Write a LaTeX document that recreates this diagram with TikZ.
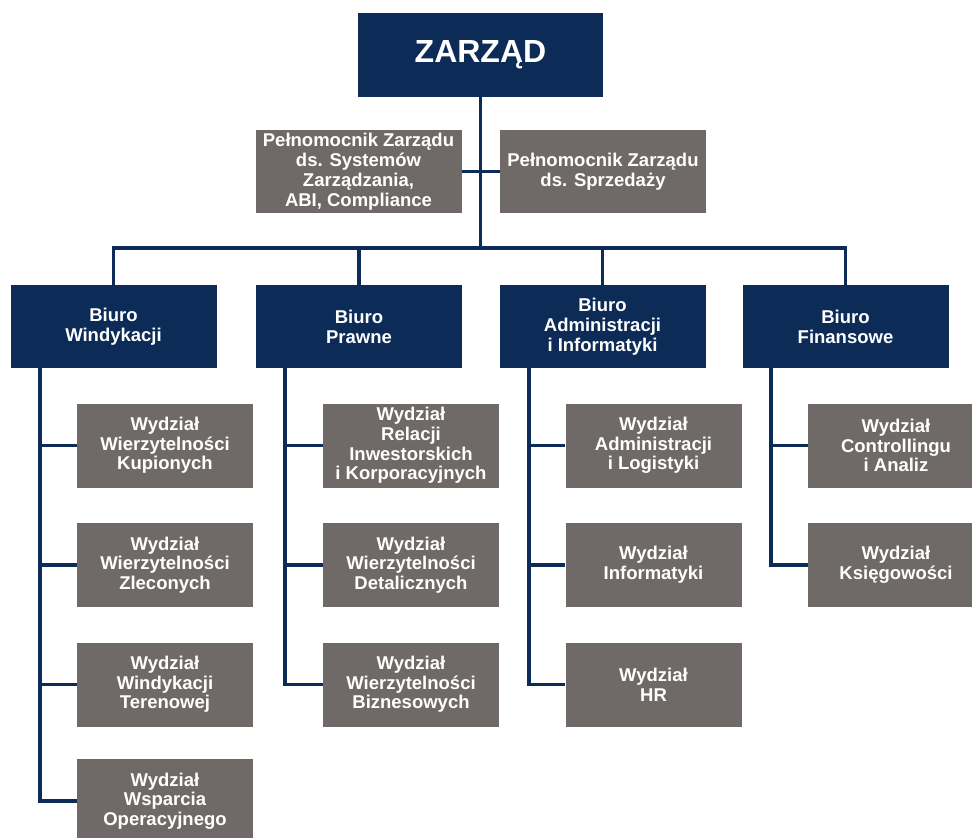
\documentclass[tikz,border=0pt]{standalone}
\usepackage{fontspec}
\setmainfont{Liberation Sans}
\usepackage{tikz}
\usetikzlibrary{positioning}
\definecolor{navyBox}{RGB}{12,43,86}
\definecolor{grayBox}{RGB}{111,106,104}
\tikzstyle{boardNode}=[rectangle,fill=navyBox,text=white,inner sep=0pt,minimum width=245pt,minimum height=84pt,font=\bfseries\fontsize{32}{35}\selectfont]
\tikzstyle{officeNode}=[rectangle,fill=navyBox,text=white,inner sep=0pt,align=center,minimum width=206pt,minimum height=83pt,font=\bfseries\fontsize{18.5}{20}\selectfont]
\tikzstyle{proxyNode}=[rectangle,fill=grayBox,text=white,inner sep=0pt,align=center,minimum width=206pt,minimum height=83pt,font=\bfseries\fontsize{18.5}{20}\selectfont]
\tikzstyle{unitNode}=[rectangle,fill=grayBox,text=white,inner sep=0pt,align=center,minimum width=176pt,minimum height=84pt,font=\bfseries\fontsize{18.5}{19.7}\selectfont]
\tikzstyle{orgLine}=[draw=navyBox,line width=3.2pt]

\begin{document}
\begin{tikzpicture}[x=1pt,y=-1pt]

    \clip (0,0) rectangle (972,838);
    \fill[white] (0,0) rectangle (972,838);

    \node[boardNode] (zarzad) at (480.5,55) {ZARZĄD};
    \node[proxyNode] (pelSys) at (358.5,171.5) {Pełnomocnik Zarządu\\ds. Systemów\\Zarządzania,\\ABI, Compliance};
    \node[proxyNode] (pelSpr) at (603,171.5) {Pełnomocnik Zarządu\\ds. Sprzedaży};

    \node[officeNode] (bWin) at (113.5,326.5) {Biuro\\Windykacji};
    \node[officeNode] (bPra) at (359,326.5) {Biuro\\Prawne};
    \node[officeNode] (bAdm) at (602.5,326.5) {Biuro\\Administracji\\i Informatyki};
    \node[officeNode] (bFin) at (845.5,326.5) {Biuro\\Finansowe};

    \node[unitNode] (wKup) at (165,445.5) {Wydział\\Wierzytelności\\Kupionych};
    \node[unitNode] (wZle) at (165,565) {Wydział\\Wierzytelności\\Zleconych};
    \node[unitNode] (wTer) at (165,684.5) {Wydział\\Windykacji\\Terenowej};
    \node[unitNode] (wOpe) at (165,801) {Wydział\\Wsparcia\\Operacyjnego};

    \node[unitNode] (wRel) at (411,445.5) {Wydział\\Relacji\\Inwestorskich\\i Korporacyjnych};
    \node[unitNode] (wDet) at (411,565) {Wydział\\Wierzytelności\\Detalicznych};
    \node[unitNode] (wBiz) at (411,684.5) {Wydział\\Wierzytelności\\Biznesowych};

    \node[unitNode] (wLog) at (653.5,445.5) {Wydział\\Administracji\\i Logistyki};
    \node[unitNode] (wInf) at (653.5,565) {Wydział\\Informatyki};
    \node[unitNode] (wHR) at (653.5,684.5) {Wydział\\HR};

    \node[unitNode] (wCon) at (896,445.5) {Wydział\\Controllingu\\i Analiz};
    \node[unitNode] (wKsi) at (896,565) {Wydział\\Księgowości};

    \coordinate (bus) at (480.5,248);
    \coordinate (railWin) at (40,368);
    \coordinate (railPra) at (285,368);
    \coordinate (railAdm) at (529,368);
    \coordinate (railFin) at (771,368);

    \draw[orgLine] (zarzad.south) -- (bus);
    \draw[orgLine] (pelSys.east) -- (pelSpr.west);
    \draw[orgLine] (bWin.north) |- (bus) -| (bFin.north);
    \draw[orgLine] (bPra.north) -- (bPra.north |- bus);
    \draw[orgLine] (bAdm.north) -- (bAdm.north |- bus);

    \draw[orgLine] (railWin) |- (wOpe.west);
    \draw[orgLine] (railWin |- wKup) -- (wKup.west);
    \draw[orgLine] (railWin |- wZle) -- (wZle.west);
    \draw[orgLine] (railWin |- wTer) -- (wTer.west);

    \draw[orgLine] (railPra) |- (wBiz.west);
    \draw[orgLine] (railPra |- wRel) -- (wRel.west);
    \draw[orgLine] (railPra |- wDet) -- (wDet.west);

    \draw[orgLine] (railAdm) |- (wHR.west);
    \draw[orgLine] (railAdm |- wLog) -- (wLog.west);
    \draw[orgLine] (railAdm |- wInf) -- (wInf.west);

    \draw[orgLine] (railFin) |- (wKsi.west);
    \draw[orgLine] (railFin |- wCon) -- (wCon.west);

  \end{tikzpicture}
\end{document}
